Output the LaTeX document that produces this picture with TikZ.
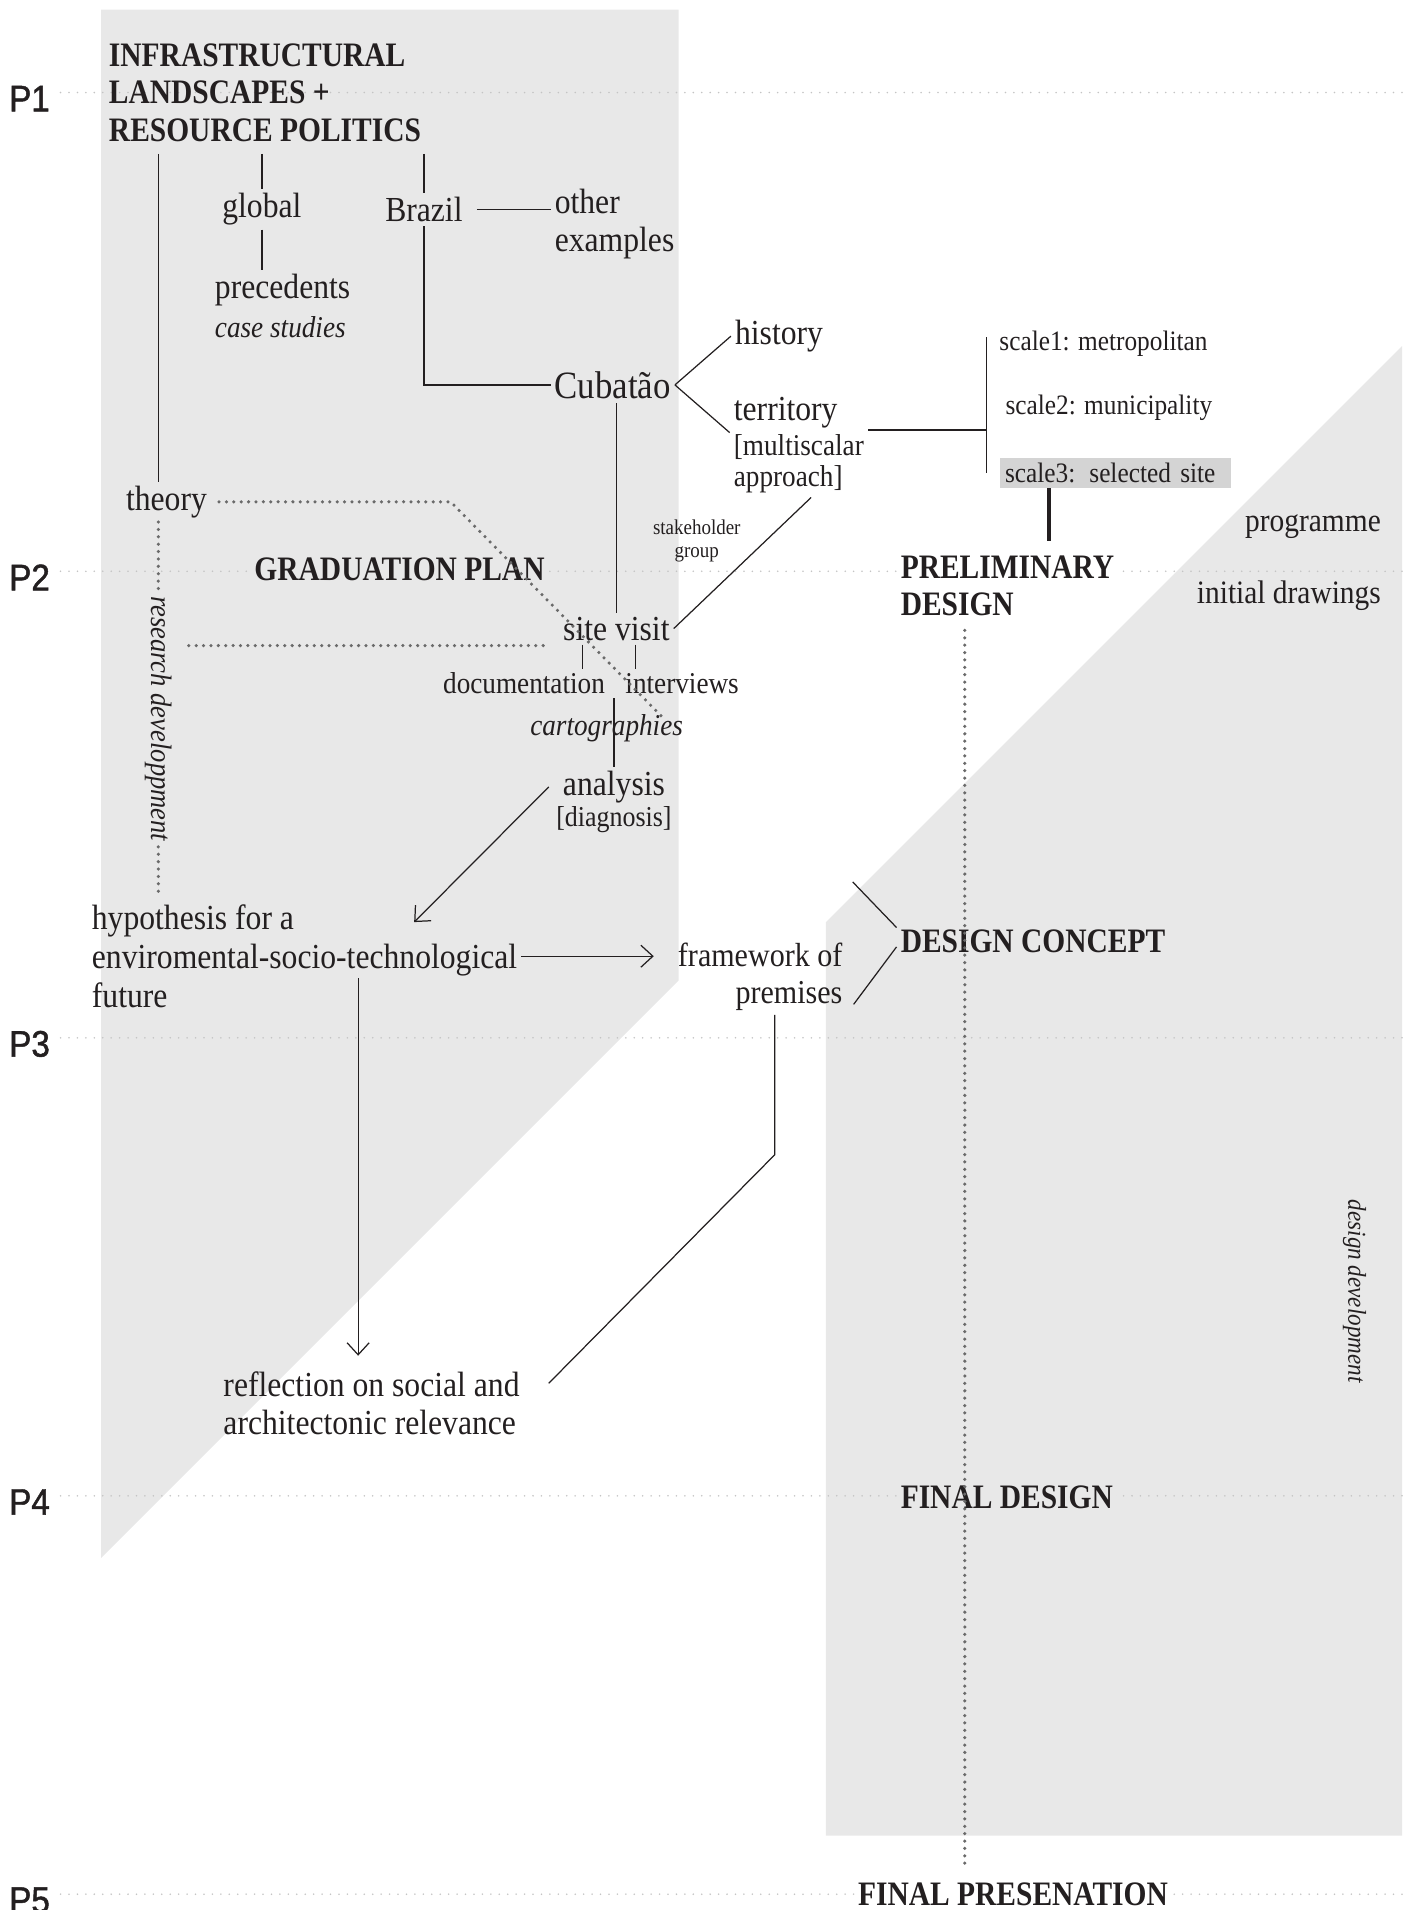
\documentclass[tikz,border=0pt]{standalone}
\usepackage{fontspec}
\setmainfont{Liberation Serif}[FakeStretch=0.9]
\newfontfamily\headfont{Liberation Serif}[FakeStretch=0.86]
\newfontfamily\mlfont{Liberation Sans}[FakeStretch=0.9,FakeBold=1.3]
\usetikzlibrary{arrows.meta}
\definecolor{inkdark}{HTML}{231F20}
\definecolor{panelgray}{HTML}{E8E8E8}
\definecolor{sitegray}{HTML}{D4D4D4}
\definecolor{dotgray}{HTML}{C4C4C4}
\definecolor{trailgray}{HTML}{6A6A6A}

\begin{document}
\begin{tikzpicture}[x=0.1218mm,y=-0.1218mm,
  txt/.style={text=inkdark,inner sep=1pt,font=\fontsize{10}{11}\selectfont},
  smalltxt/.style={txt,font=\fontsize{8.6}{9}\selectfont},
  tinytxt/.style={txt,font=\fontsize{8}{9}\selectfont},
  sidetxt/.style={txt,font=\fontsize{9.3}{10}\selectfont},
  head/.style={text=inkdark,inner sep=1pt,font=\headfont\bfseries\fontsize{9.75}{10.7}\selectfont},
  mlabel/.style={anchor=west,inner sep=0pt,text=inkdark,font=\mlfont\fontsize{10.5}{12}\selectfont},
  milestone/.style={dotgray,line width=0.5pt,line cap=round,dash pattern=on 0pt off 2.4pt},
  trail/.style={trailgray,line width=1pt,line cap=round,dash pattern=on 0pt off 2.1pt},
  connector/.style={inkdark,line width=0.35pt},
  flow/.style={connector,-{Straight Barb[length=1.2mm,width=2.2mm]}}]
 \useasboundingbox (0,0) rectangle (1151,1568);
 % research and design panels
 \fill[panelgray] (83,8) -- (557,8) -- (557,805) -- (83,1279) -- cycle;
 \fill[panelgray] (678,1507) -- (678,757) -- (1151,284) -- (1151,1507) -- cycle;
 % milestones
 \foreach \i/\y in {1/76,2/469,3/852,4/1228,5/1555} {
  \node[mlabel] (p\i) at (7,\y+5) {P\i};
  \draw[milestone,shorten <=1mm] (p\i.east |- 0,\y) -- (1151,\y);}
 % free ends
 \coordinate (rd) at (130,733);
 \coordinate (sctop) at (810,277);
 \coordinate (scbot) at (810,388);
 \coordinate (s3tail) at (861,444);
 \coordinate (hyptip) at (340,757);
 \coordinate (hypout) at (294,803);
 \coordinate (frbend) at (636,948);
 \coordinate (dctop) at (700,724);
 \coordinate (thbend) at (370,412);
 \coordinate (thend) at (545,590);
 \coordinate (svdot) at (155,530);
 % headings
 \node[head,anchor=west,align=left] (title) at (86,76) {INFRASTRUCTURAL\\LANDSCAPES +\\RESOURCE POLITICS};
 \node[head,fill=panelgray] (gradplan) at (328,467) {GRADUATION PLAN};
 \node[head,fill=white,anchor=west,align=left] (prelim) at (736,481) {PRELIMINARY\\DESIGN};
 \node[head,anchor=west] (dconcept) at (736,773) {DESIGN CONCEPT};
 \node[head,fill=panelgray,anchor=west] (finaldesign) at (736,1229) {FINAL DESIGN};
 \node[head,fill=white,anchor=west] (finalpres) at (701,1555) {FINAL PRESENATION};
 % research tree
 \node[txt] (global) at (215,172) {global};
 \node[txt] (brazil) at (348,172) {Brazil};
 \node[txt,anchor=west,align=left] (other) at (452,184) {other\\examples};
 \node[txt,anchor=west,align=left] (prec) at (173,251) {precedents\\{\fontsize{8.6}{11}\selectfont\itshape case studies}};
 \node[txt,font=\fontsize{11}{12}\selectfont] (cubatao) at (503,316) {Cubatão};
 \node[txt,anchor=west] (history) at (600,276) {history};
 \node[txt,anchor=west] (terr) at (599,339) {territory};
 \node[smalltxt,anchor=north west,align=left] (terrsub) at (599,353) {[multiscalar\\approach]};
 \node[tinytxt,anchor=west] (scale1) at (817,282) {scale1: metropolitan};
 \node[tinytxt,anchor=west] (scale2) at (822,335) {scale2: municipality};
 \node[tinytxt,anchor=west,align=left,fill=sitegray,minimum height=3mm,inner xsep=0.55mm,text width=22mm] (scale3) at (820,388) {scale3:\enspace selected site};
 \node[txt,anchor=west] (theory) at (100,412) {theory};
 \node[txt,font=\fontsize{6}{6.5}\selectfont,align=center] (stake) at (572,444) {stakeholder\\group};
 \node[sidetxt,anchor=east] (programme) at (1137,432) {programme};
 \node[sidetxt,anchor=east] (initdraw) at (1137,489) {initial drawings};
 \node[txt] (sitevisit) at (506,516) {site visit};
 \node[smalltxt,anchor=east] (doc) at (500,561) {documentation};
 \node[smalltxt,anchor=west] (interv) at (510,561) {interviews};
 \node[txt,font=\itshape\fontsize{8.6}{10}\selectfont] (carto) at (498,598) {cartographies};
 \node[txt] (analysis) at (504,646) {analysis};
 \node[txt,font=\fontsize{8.2}{9}\selectfont] (diag) at (504,673) {[diagnosis]};
 \node[txt,anchor=west,align=left] (hyp) at (72,785) {hypothesis for a\\enviromental-socio-technological\\future};
 \node[txt,anchor=east,align=right,font=\fontsize{9.5}{10.5}\selectfont] (frame) at (695,802) {framework of\\premises};
 \node[txt,anchor=west,align=left,font=\fontsize{10}{10.7}\selectfont] (refl) at (180,1152) {reflection on social and\\architectonic relevance};
 % tree links
 \draw[connector,shorten <=0.8mm] (title.south -| rd) -- (theory.north -| rd);
 \draw[connector,shorten <=0.8mm] (title.south -| global.north) -- (global.north);
 \draw[connector,shorten <=0.8mm] (title.south -| brazil.north) -- (brazil.north);
 \draw[connector] (global.south) -- (global.south |- prec.north);
 \draw[connector,shorten <=1mm] (brazil.east) -- (brazil.east -| other.west);
 \draw[connector] (brazil.south) |- (cubatao.west);
 \draw[connector] (cubatao.east) -- (history.west);
 \draw[connector] (cubatao.east) -- (terr.south west);
 \draw[connector] (sitevisit.north) -- (sitevisit.north |- cubatao.south);
 \draw[connector] (terrsub.north east) -- (terrsub.north east -| sctop);
 \draw[connector] (sctop) -- (scbot);
 \draw[inkdark,line width=1pt] (s3tail |- scale3.south) -- (s3tail);
 \draw[connector] (sitevisit.east) -- (terrsub.-70);
 \draw[connector] (478,0 |- sitevisit.south) -- (478,0 |- doc.north);
 \draw[connector] (522,0 |- sitevisit.south) -- (522,0 |- interv.north);
 \draw[connector] (analysis.north) -- (analysis.north |- doc.south);
 \draw[flow] ([xshift=-1mm]analysis.west) -- (hyptip);
 \draw[flow,shorten >=2mm] (hyp.east) -- (hyp.east -| frame.west);
 \draw[flow,shorten >=1.2mm] (hypout) -- (hypout |- refl.north);
 \draw[connector] (frame.south -| frbend) -- (frbend) -- ([xshift=2.5mm,yshift=2mm]refl.east);
 \draw[connector] (dctop) -- ([yshift=4pt]dconcept.west);
 \draw[connector] ([xshift=2pt,yshift=3pt]frame.south east) -- ([yshift=-1.5pt]dconcept.west);
 % dotted trails
 \draw[trail,shorten <=1mm,shorten >=1mm] (792,0 |- prelim.south) -- (792,0 |- finalpres.north);
 \draw[trail,shorten <=0.8mm] (theory.east) -- (thbend) -- (thend);
 \draw[trail] (theory.south -| rd) -- (rd);
 \draw[trail,shorten >=1.5mm] (svdot) -- (svdot -| sitevisit.west);
 \node[txt,font=\itshape\fontsize{8.4}{9}\selectfont,rotate=-90,fill=panelgray] (resdev) at (130,590) {research developpment};
 \node[txt,font=\itshape\fontsize{7.3}{9}\selectfont,rotate=-90] (designdev) at (1112,1060) {design development};
\end{tikzpicture}
\end{document}
